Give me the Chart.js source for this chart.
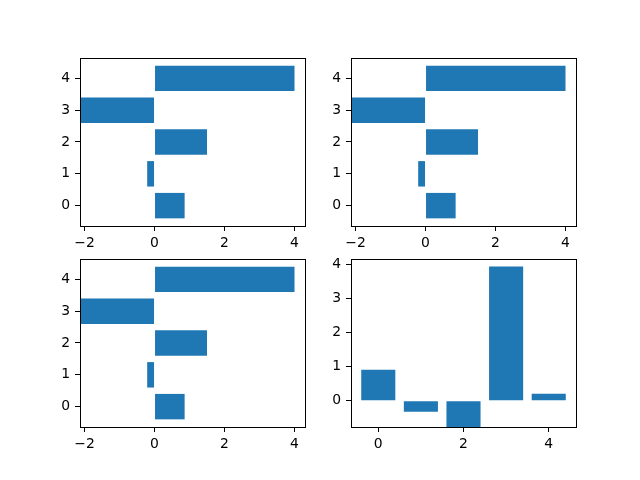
<!DOCTYPE html>
<html>
<head>
<meta charset="utf-8">
<script src="https://cdn.jsdelivr.net/npm/chart.js@4/dist/chart.umd.min.js"></script>
<style>
  html, body { margin: 0; padding: 0; background: #fff; }
  body { width: 640px; height: 480px; position: relative; overflow: hidden; }
  .cell { position: absolute; }
</style>
</head>
<body>
<div class="cell" id="c1"><canvas id="tl"></canvas></div>
<div class="cell" id="c2"><canvas id="tr"></canvas></div>
<div class="cell" id="c3"><canvas id="bl"></canvas></div>
<div class="cell" id="c4"><canvas id="br"></canvas></div>
<script>
// Data
const categories = [0, 1, 2, 3, 4];
const hbarValues = [0.86, -0.21, 1.5, -2.4, 4.0];
const vbarValues = [0.91, -0.32, -1.0, 3.95, 0.21];
const hbarTicksX = [-2, 0, 2, 4];
const hbarTicksY = [0, 1, 2, 3, 4];
const vbarTicksX = [0, 2, 4];
const vbarTicksY = [0, 1, 2, 3, 4];

const BAR = '#1f77b4';
const PAD_L = 50, PAD_T = 20, PAD_R = 15, PAD_B = 30;

// axes boxes like matplotlib's default 2x2 subplots
const boxes = {
  tl: { left: 80, top: 58, w: 225, h: 168 },
  tr: { left: 351, top: 58, w: 225, h: 168 },
  bl: { left: 80, top: 259, w: 225, h: 168 },
  br: { left: 351, top: 259, w: 225, h: 168 }
};

// draws the four spines
const framePlugin = {
  id: 'frame',
  afterDraw(chart) {
    const a = chart.chartArea, ctx = chart.ctx;
    ctx.save();
    ctx.strokeStyle = '#000';
    ctx.lineWidth = 1;
    ctx.strokeRect(Math.round(a.left) + 0.5, Math.round(a.top) + 0.5,
      Math.round(a.right - a.left), Math.round(a.bottom - a.top));
    ctx.restore();
  }
};

function fmt(v) {
  return String(v).replace('-', '\u2212');
}

function axis(min, max, ticks, isY) {
  return {
    type: 'linear',
    min: min,
    max: max,
    offset: false,
    afterBuildTicks(scale) {
      scale.ticks = ticks.map(v => ({ value: v }));
    },
    afterFit(scale) {
      if (isY) scale.width = PAD_L;
      else scale.height = PAD_B;
    },
    grid: {
      display: true,
      offset: false,
      drawOnChartArea: false,
      drawTicks: true,
      tickLength: 5,
      color: '#000',
      lineWidth: 1
    },
    border: { display: true, color: '#000', width: 1 },
    ticks: {
      color: '#000',
      padding: isY ? 5 : 4,
      maxRotation: 0,
      autoSkip: false,
      font: { family: 'DejaVu Sans', size: 13.9 },
      callback: v => fmt(v)
    }
  };
}

function makeChart(id, horizontal) {
  const b = boxes[id];
  const cell = document.getElementById(id).parentNode;
  cell.style.left = (b.left - PAD_L) + 'px';
  cell.style.top = (b.top - PAD_T) + 'px';
  cell.style.width = (b.w + PAD_L + PAD_R) + 'px';
  cell.style.height = (b.h + PAD_T + PAD_B) + 'px';

  const scales = horizontal
    ? { x: axis(-2.13, 4.3, hbarTicksX, false), y: axis(-0.64, 4.64, hbarTicksY, true) }
    : { x: axis(-0.64, 4.64, vbarTicksX, false), y: axis(-0.77, 4.17, vbarTicksY, true) };

  new Chart(document.getElementById(id), {
    type: 'bar',
    data: {
      labels: categories,
      datasets: [{
        data: horizontal ? hbarValues : vbarValues,
        backgroundColor: BAR,
        borderWidth: 0,
        categoryPercentage: 1.0,
        barPercentage: 0.8
      }]
    },
    options: {
      indexAxis: horizontal ? 'y' : 'x',
      responsive: true,
      maintainAspectRatio: false,
      animation: false,
      layout: { padding: { top: PAD_T, right: PAD_R, left: 0, bottom: 0 } },
      plugins: {
        legend: { display: false },
        tooltip: { enabled: false }
      },
      scales: scales
    },
    plugins: [framePlugin]
  });
}

makeChart('tl', true);
makeChart('tr', true);
makeChart('bl', true);
makeChart('br', false);
</script>
</body>
</html>
